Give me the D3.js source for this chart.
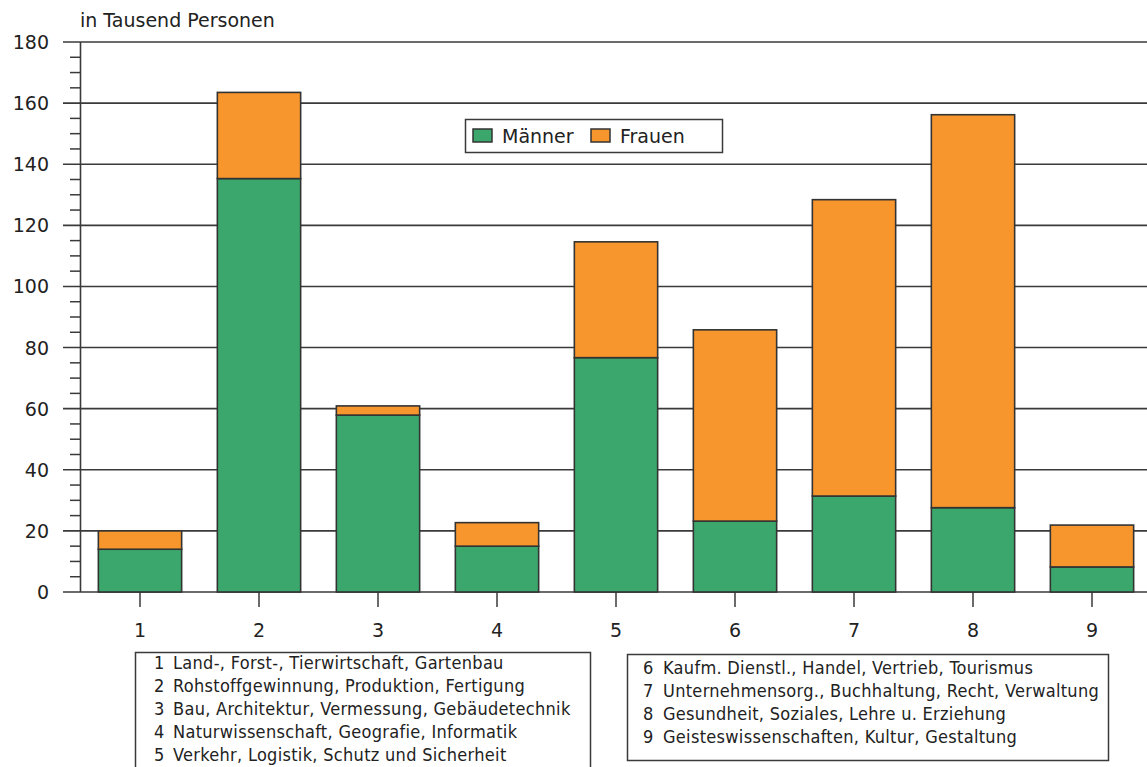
<!DOCTYPE html>
<html><head><meta charset="utf-8">
<script src="https://cdn.jsdelivr.net/npm/d3@7"></script>
<style>
body{margin:0;background:#fff;}
svg{display:block;}
</style></head>
<body>
<svg id="c" width="1147" height="767"></svg>
<script>
const categories = ["1","2","3","4","5","6","7","8","9"];
const maenner = [14, 135.3, 57.9, 15, 76.7, 23.2, 31.4, 27.6, 8.2];
const frauen  = [6, 28.2, 3, 7.7, 37.9, 62.6, 97, 128.6, 13.7];
const seriesNames = ["Männer", "Frauen"];
const seriesColors = ["#3ba76c", "#f7962c"];
const yTicks = [0,20,40,60,80,100,120,140,160,180];
const yMinorTicks = d3.range(0,181,5).filter(v => v % 20 !== 0);
const unitLabel = "in Tausend Personen";
const legendLeft = [
  ["1","Land-, Forst-, Tierwirtschaft, Gartenbau"],
  ["2","Rohstoffgewinnung, Produktion, Fertigung"],
  ["3","Bau, Architektur, Vermessung, Gebäudetechnik"],
  ["4","Naturwissenschaft, Geografie, Informatik"],
  ["5","Verkehr, Logistik, Schutz und Sicherheit"]
];
const legendRight = [
  ["6","Kaufm. Dienstl., Handel, Vertrieb, Tourismus"],
  ["7","Unternehmensorg., Buchhaltung, Recht, Verwaltung"],
  ["8","Gesundheit, Soziales, Lehre u. Erziehung"],
  ["9","Geisteswissenschaften, Kultur, Gestaltung"]
];

const svg = d3.select("#c");
const font = "'DejaVu Sans', sans-serif";
const textCol = "#222";
const lineCol = "#3a3a3a";

const x = d3.scaleBand().domain(categories).range([80.5, 1151.5]).paddingInner(0.3).paddingOuter(0.15);
const y = d3.scaleLinear().domain([0,180]).range([592, 42]);

// gridlines
svg.append("g").selectAll("line").data(yTicks).join("line")
  .attr("x1", 63).attr("x2", 1147)
  .attr("y1", d => y(d)).attr("y2", d => y(d))
  .attr("stroke", lineCol).attr("stroke-width", 1.6);
// minor ticks
svg.append("g").selectAll("line").data(yMinorTicks).join("line")
  .attr("x1", 70).attr("x2", 80.5)
  .attr("y1", d => y(d)).attr("y2", d => y(d))
  .attr("stroke", lineCol).attr("stroke-width", 1.5);
// y axis line
svg.append("line").attr("x1",80.5).attr("x2",80.5).attr("y1",y(180)).attr("y2",y(0))
  .attr("stroke", lineCol).attr("stroke-width", 1.6);
// y labels
svg.append("g").selectAll("text").data(yTicks).join("text")
  .attr("x", 49).attr("y", d => y(d) + 7)
  .attr("text-anchor","end").attr("font-family",font).attr("font-size",19)
  .attr("fill", textCol).text(d => d);
svg.append("text").attr("x",80).attr("y",27).attr("font-family",font).attr("font-size",19)
  .attr("fill",textCol).text(unitLabel);

// x ticks
svg.append("g").selectAll("line").data(categories).join("line")
  .attr("x1", d => x(d)+x.bandwidth()/2).attr("x2", d => x(d)+x.bandwidth()/2)
  .attr("y1", y(0)).attr("y2", y(0)+15)
  .attr("stroke", lineCol).attr("stroke-width", 1.5);
svg.append("g").selectAll("text").data(categories).join("text")
  .attr("x", d => x(d)+x.bandwidth()/2).attr("y", 637)
  .attr("text-anchor","middle").attr("font-family",font).attr("font-size",19)
  .attr("fill",textCol).text(d => d);

// stacked bars
const rows = categories.map((c,i) => ({cat:c, "Männer":maenner[i], "Frauen":frauen[i]}));
const stack = d3.stack().keys(seriesNames)(rows);
stack.forEach((layer, li) => {
  svg.append("g").selectAll("rect").data(layer).join("rect")
    .attr("x", d => x(d.data.cat))
    .attr("width", x.bandwidth())
    .attr("y", d => y(d[1]))
    .attr("height", d => y(d[0]) - y(d[1]))
    .attr("fill", seriesColors[li])
    .attr("stroke", "#333").attr("stroke-width", 1.6);
});

// legend
const lg = svg.append("g");
lg.append("rect").attr("x",465.5).attr("y",119.5).attr("width",257).attr("height",33)
  .attr("fill","#fff").attr("stroke",lineCol).attr("stroke-width",1.5);
const lx = [473, 591];
seriesNames.forEach((n,i) => {
  lg.append("rect").attr("x",lx[i]).attr("y",129).attr("width",19).attr("height",13)
    .attr("fill",seriesColors[i]).attr("stroke","#333").attr("stroke-width",1.5);
  lg.append("text").attr("x",lx[i]+29).attr("y",143).attr("font-family",font).attr("font-size",19)
    .attr("fill",textCol).text(n);
});

// category legends
const cfont = "'DejaVu Sans Condensed', 'DejaVu Sans', sans-serif";
function catBox(items, bx, by, bw, bh, nx, tx, ty0) {
  const g = svg.append("g");
  g.append("rect").attr("x",bx).attr("y",by).attr("width",bw).attr("height",bh)
    .attr("fill","#fff").attr("stroke",lineCol).attr("stroke-width",1.5);
  items.forEach((it,i) => {
    g.append("text").attr("x",nx).attr("y",ty0+i*23).attr("font-family",cfont)
      .attr("font-stretch","condensed").attr("font-size",18).attr("fill",textCol).text(it[0]);
    g.append("text").attr("x",tx).attr("y",ty0+i*23).attr("font-family",cfont)
      .attr("font-stretch","condensed").attr("font-size",18).attr("letter-spacing",0.3)
      .attr("fill",textCol).text(it[1]);
  });
}
catBox(legendLeft, 135.5, 652.5, 455, 130, 154, 173, 669);
catBox(legendRight, 627.5, 654.5, 481, 106, 643, 663, 674);
</script>
</body></html>
